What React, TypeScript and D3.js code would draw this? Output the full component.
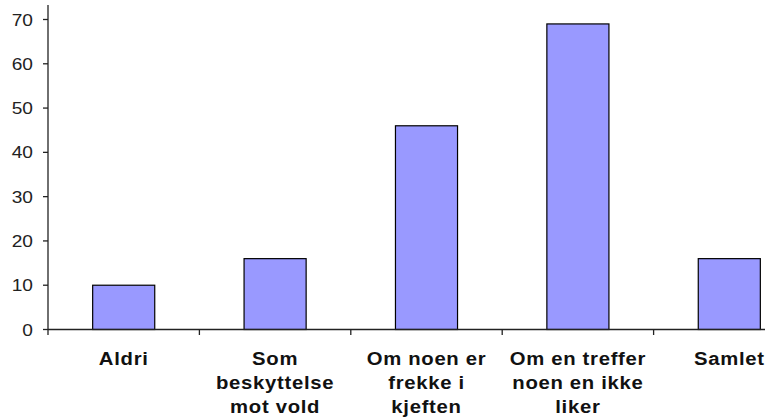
import React from "react";
import * as d3 from "d3";

const categories: string[][] = [
  ["Aldri"],
  ["Som", "beskyttelse", "mot vold"],
  ["Om noen er", "frekke i", "kjeften"],
  ["Om en treffer", "noen en ikke", "liker"],
  ["Samlet"],
];
const values: number[] = [10, 16, 46, 69, 16];
const yTicks: number[] = [0, 10, 20, 30, 40, 50, 60, 70];

const W = 765;
const H = 419;
const x0 = 48;
const bandW = 151.4;

export default function App() {
  const keys = categories.map((_, i) => String(i));
  const x = d3.scaleBand<string>().domain(keys).range([x0, x0 + bandW * keys.length]).padding(0);
  const y = d3.scaleLinear().domain([0, 70]).range([329.5, 19.5]);
  const barW = x.bandwidth() * 0.41;
  const font = "'Liberation Sans', Arial, sans-serif";
  const sx = 1.16;
  return (
    <svg width={W} height={H} style={{ position: "absolute", left: 0, top: 0, background: "#fff" }}>
      <rect x={0} y={0} width={W} height={H} fill="#fff" />
      {values.map((v, i) => {
        const bx = (x(keys[i]) as number) + (x.bandwidth() - barW) / 2;
        return (
          <rect key={i} x={bx} y={y(v)} width={barW} height={y(0) - y(v)} fill="#9999FF" stroke="#000" strokeWidth={1.2} />
        );
      })}
      {/* y axis */}
      <line x1={x0} x2={x0} y1={5} y2={335} stroke="#222" strokeWidth={1.3} />
      {yTicks.map((t) => (
        <g key={t}>
          <line x1={43} x2={x0} y1={y(t)} y2={y(t)} stroke="#222" strokeWidth={1.3} />
          <g transform={`translate(33,${y(t) + 6}) scale(${sx},1)`}>
            <text x={0} y={0} textAnchor="end" fontFamily={font} fontSize={16.5} fill="#222">
              {t}
            </text>
          </g>
        </g>
      ))}
      {/* x axis */}
      <line x1={x0} x2={W} y1={y(0)} y2={y(0)} stroke="#222" strokeWidth={1.3} />
      {keys.slice(1).map((k) => (
        <line key={k} x1={x(k) as number} x2={x(k) as number} y1={y(0)} y2={335} stroke="#222" strokeWidth={1.3} />
      ))}
      {categories.map((lines, i) => {
        const cx = (x(keys[i]) as number) + x.bandwidth() / 2;
        return lines.map((ln, j) => (
          <g key={`${i}-${j}`} transform={`translate(${cx},${365 + j * 24}) scale(${sx},1)`}>
            <text x={0} y={0} textAnchor="middle" fontFamily={font} fontWeight="bold" fontSize={17.5} letterSpacing={0.6} fill="#111">
              {ln}
            </text>
          </g>
        ));
      })}
    </svg>
  );
}
